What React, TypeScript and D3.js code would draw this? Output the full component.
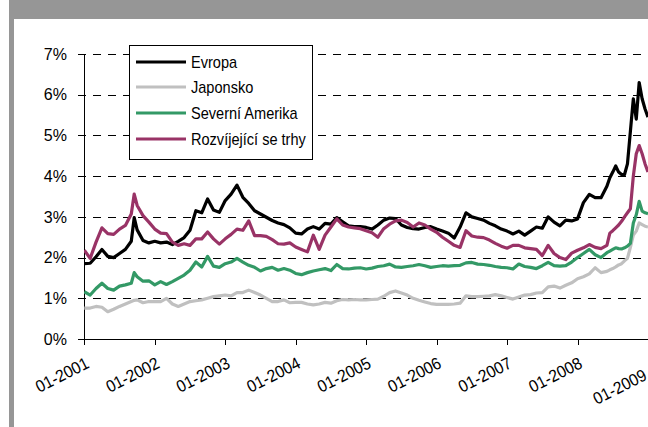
import React from "react";
import * as d3 from "d3";

// month offsets from 01-2001 (half months added where the lines jump)
const MONTHS = [
  0, 1, 2, 3, 4, 5, 6, 7, 8, 8.5, 9, 10, 11,
  12, 13, 14, 15, 16, 17, 18, 19, 20, 21, 22, 23,
  24, 25, 26, 27, 28, 29, 30, 31, 32, 33, 34, 35,
  36, 37, 38, 39, 40, 41, 42, 43, 44, 45, 46, 47,
  48, 49, 50, 51, 52, 53, 54, 55, 56, 57, 58, 59,
  60, 61, 62, 63, 64, 65, 66, 67, 68, 69, 70, 71,
  72, 73, 74, 75, 76, 77, 78, 79, 80, 81, 82, 83,
  84, 85, 86, 87, 88, 89, 89.5, 90, 90.5, 91, 91.5, 92, 92.5, 93, 93.5, 94, 94.5, 95, 95.5, 96,
];

const EVROPA = [
  1.85, 1.86, 2.02, 2.2, 2.03, 2.0, 2.1, 2.2, 2.4, 2.98, 2.68, 2.42, 2.36,
  2.4, 2.36, 2.38, 2.32, 2.4, 2.49, 2.67, 3.15, 3.1, 3.44, 3.17, 3.11,
  3.4, 3.56, 3.78, 3.48, 3.33, 3.15, 3.07, 2.99, 2.91, 2.85, 2.81, 2.73,
  2.6, 2.58, 2.7, 2.76, 2.7, 2.84, 2.82, 2.98, 2.88, 2.78, 2.76, 2.76,
  2.74, 2.7, 2.8, 2.92, 2.97, 2.96, 2.8, 2.74, 2.71, 2.7, 2.74, 2.76,
  2.7, 2.65, 2.6, 2.48, 2.75, 3.1, 3.0, 2.96, 2.92, 2.84, 2.78, 2.7,
  2.65, 2.58, 2.65, 2.55, 2.65, 2.75, 2.72, 3.0, 2.87, 2.78, 2.92, 2.9,
  2.95, 3.35, 3.55, 3.47, 3.47, 3.75, 3.96, 4.1, 4.25, 4.1, 4.04, 4.04, 4.3, 5.1, 5.9, 5.4, 6.3, 5.9, 5.65, 5.45,
];

const JAPONSKO = [
  0.76, 0.76, 0.8, 0.78, 0.67, 0.73, 0.8, 0.86, 0.92, 0.95, 0.96, 0.89, 0.92,
  0.92, 0.92, 1.0, 0.86, 0.8, 0.86, 0.92, 0.94, 0.96, 1.0, 1.04, 1.06,
  1.08, 1.06, 1.14, 1.14, 1.2, 1.14, 1.08, 1.0, 0.92, 0.92, 0.96, 0.89,
  0.9, 0.9, 0.86, 0.84, 0.86, 0.9, 0.88, 0.94, 0.97, 0.96, 0.97, 0.96,
  0.96, 0.97, 0.98, 1.05, 1.14, 1.18, 1.13, 1.08, 1.0, 0.95, 0.91, 0.87,
  0.85, 0.85, 0.85, 0.86, 0.88, 1.06, 1.04, 1.04, 1.05, 1.06, 1.09, 1.06,
  1.02, 0.98, 1.03, 1.08, 1.09, 1.13, 1.14, 1.28, 1.3, 1.25, 1.32, 1.38,
  1.48, 1.53, 1.6, 1.75, 1.63, 1.66, 1.7, 1.73, 1.77, 1.82, 1.85, 1.92, 1.98, 2.25, 2.55, 2.65, 2.85, 2.81, 2.77, 2.75,
];

const SEVERNI_AMERIKA = [
  1.16, 1.08, 1.24, 1.37, 1.24, 1.2, 1.3, 1.33, 1.37, 1.63, 1.53, 1.42, 1.43,
  1.33, 1.41, 1.34, 1.41, 1.49, 1.57, 1.69, 1.89, 1.77, 2.03, 1.79, 1.76,
  1.85, 1.89, 1.98, 1.89, 1.81, 1.76, 1.67, 1.73, 1.76, 1.69, 1.73, 1.69,
  1.61, 1.58, 1.63, 1.67, 1.7, 1.73, 1.68, 1.83, 1.73, 1.72, 1.74, 1.75,
  1.72, 1.74, 1.78, 1.8, 1.84, 1.77, 1.76, 1.78, 1.8, 1.83, 1.8, 1.76,
  1.78, 1.8, 1.79, 1.8, 1.81, 1.87, 1.88, 1.84, 1.83, 1.81, 1.78, 1.76,
  1.75, 1.72, 1.84, 1.78, 1.76, 1.73, 1.8, 1.88, 1.8, 1.79, 1.8, 1.89,
  2.0, 2.1, 2.2, 2.07, 2.0, 2.12, 2.16, 2.2, 2.24, 2.22, 2.21, 2.24, 2.28, 2.35, 2.85, 3.05, 3.38, 3.14, 3.1, 3.08,
];

const ROZVIJEJICI = [
  2.18, 1.98, 2.38, 2.73, 2.59, 2.57, 2.7, 2.79, 3.07, 3.56, 3.28, 3.03, 2.87,
  2.7, 2.6, 2.59, 2.38, 2.3, 2.34, 2.3, 2.46, 2.46, 2.63, 2.46, 2.33,
  2.46, 2.57, 2.7, 2.67, 2.9, 2.54, 2.54, 2.52, 2.44, 2.34, 2.33, 2.36,
  2.26, 2.2, 2.14, 2.55, 2.2, 2.55, 2.75, 2.95, 2.8, 2.75, 2.73, 2.71,
  2.66, 2.61, 2.5, 2.71, 2.82, 2.9, 2.92, 2.86, 2.75, 2.85, 2.8, 2.7,
  2.62, 2.5, 2.4, 2.3, 2.25, 2.66, 2.53, 2.5, 2.49, 2.43, 2.35, 2.28,
  2.23, 2.3, 2.3, 2.24, 2.22, 2.2, 2.05, 2.3, 2.1, 2.0, 1.95, 2.11,
  2.18, 2.24, 2.32, 2.25, 2.22, 2.3, 2.6, 2.66, 2.73, 2.8, 2.89, 3.0, 3.1, 3.2, 4.0, 4.55, 4.75, 4.55, 4.3, 4.1,
];

const SERIES = [
  { name: "Evropa", values: EVROPA, color: "#000000" },
  { name: "Japonsko", values: JAPONSKO, color: "#C0C0C0" },
  { name: "Severní Amerika", values: SEVERNI_AMERIKA, color: "#339966" },
  { name: "Rozvíjející se trhy", values: ROZVIJEJICI, color: "#993366" },
];

const X_LABELS = ["01-2001", "01-2002", "01-2003", "01-2004", "01-2005", "01-2006", "01-2007", "01-2008", "01-2009"];
const Y_TICKS = [0, 1, 2, 3, 4, 5, 6, 7];

const W = 648;
const H = 427;
const FONT = "'Liberation Sans', Arial, sans-serif";

export default function App() {
  const x = d3.scaleLinear().domain([0, 96]).range([84.3, 648]);
  const y = d3.scaleLinear().domain([0, 7]).range([339, 54]);
  const line = d3
    .line<number>()
    .x((_, i) => x(MONTHS[i]))
    .y((d) => y(d));

  const legendY = [62, 87, 113, 139];
  const crisp = (v: number) => Math.round(v) + 0.5;

  return (
    <svg width={W} height={H} style={{ position: "absolute", left: 0, top: 0, background: "#fff" }} fontFamily={FONT}>
      <rect x={0} y={0} width={W} height={H} fill="#fff" />
      {/* frame */}
      <rect x={9} y={0} width={W - 9} height={19} fill="#969696" />
      <rect x={9} y={0} width={5} height={H} fill="#969696" />

      <defs>
        <clipPath id="plot">
          <rect x={84} y={20} width={W - 84} height={330} />
        </clipPath>
      </defs>

      {/* gridlines */}
      {Y_TICKS.filter((t) => t > 0).map((t) => (
        <line key={t} x1={78} x2={W} y1={crisp(y(t))} y2={crisp(y(t))} stroke="#000" strokeWidth={1} strokeDasharray="8,7" />
      ))}

      {/* y axis */}
      <line x1={84.5} x2={84.5} y1={y(7)} y2={y(0)} stroke="#000" strokeWidth={1} />
      {Y_TICKS.map((t) => (
        <g key={t}>
          <line x1={78} x2={84.5} y1={crisp(y(t))} y2={crisp(y(t))} stroke="#000" />
          <text x={67} y={y(t)} dy="0.36em" textAnchor="end" fontSize={16} fill="#000">
            {t}%
          </text>
        </g>
      ))}

      {/* x axis */}
      <line x1={84.5} x2={W} y1={crisp(y(0))} y2={crisp(y(0))} stroke="#000" />
      {X_LABELS.map((lab, i) => {
        const px = x(i * 12);
        const last = i === X_LABELS.length - 1;
        const ax = last ? 648 : px + 6;
        const ay = last ? 379 : 367;
        return (
          <g key={lab}>
            <line x1={crisp(px)} x2={crisp(px)} y1={339} y2={345} stroke="#000" />
            <text
              textAnchor="end"
              fontSize={17}
              fill="#000"
              transform={`translate(${ax},${ay}) rotate(-27) scale(0.92,1)`}
            >
              {lab}
            </text>
          </g>
        );
      })}

      {/* series */}
      <g clipPath="url(#plot)">
        {SERIES.map((s) => (
          <path key={s.name} d={line(s.values) || ""} fill="none" stroke={s.color} strokeWidth={3.2} strokeLinejoin="round" />
        ))}
      </g>

      {/* legend */}
      <rect x={129.5} y={45.5} width={183} height={114} fill="#fff" stroke="#000" strokeWidth={1} />
      {SERIES.map((s, i) => (
        <g key={s.name}>
          <line x1={136} x2={186} y1={legendY[i]} y2={legendY[i]} stroke={s.color} strokeWidth={3.2} />
          <text transform={`translate(191,${legendY[i]}) scale(0.91,1)`} dy="0.36em" fontSize={16} fill="#000">
            {s.name}
          </text>
        </g>
      ))}
    </svg>
  );
}
